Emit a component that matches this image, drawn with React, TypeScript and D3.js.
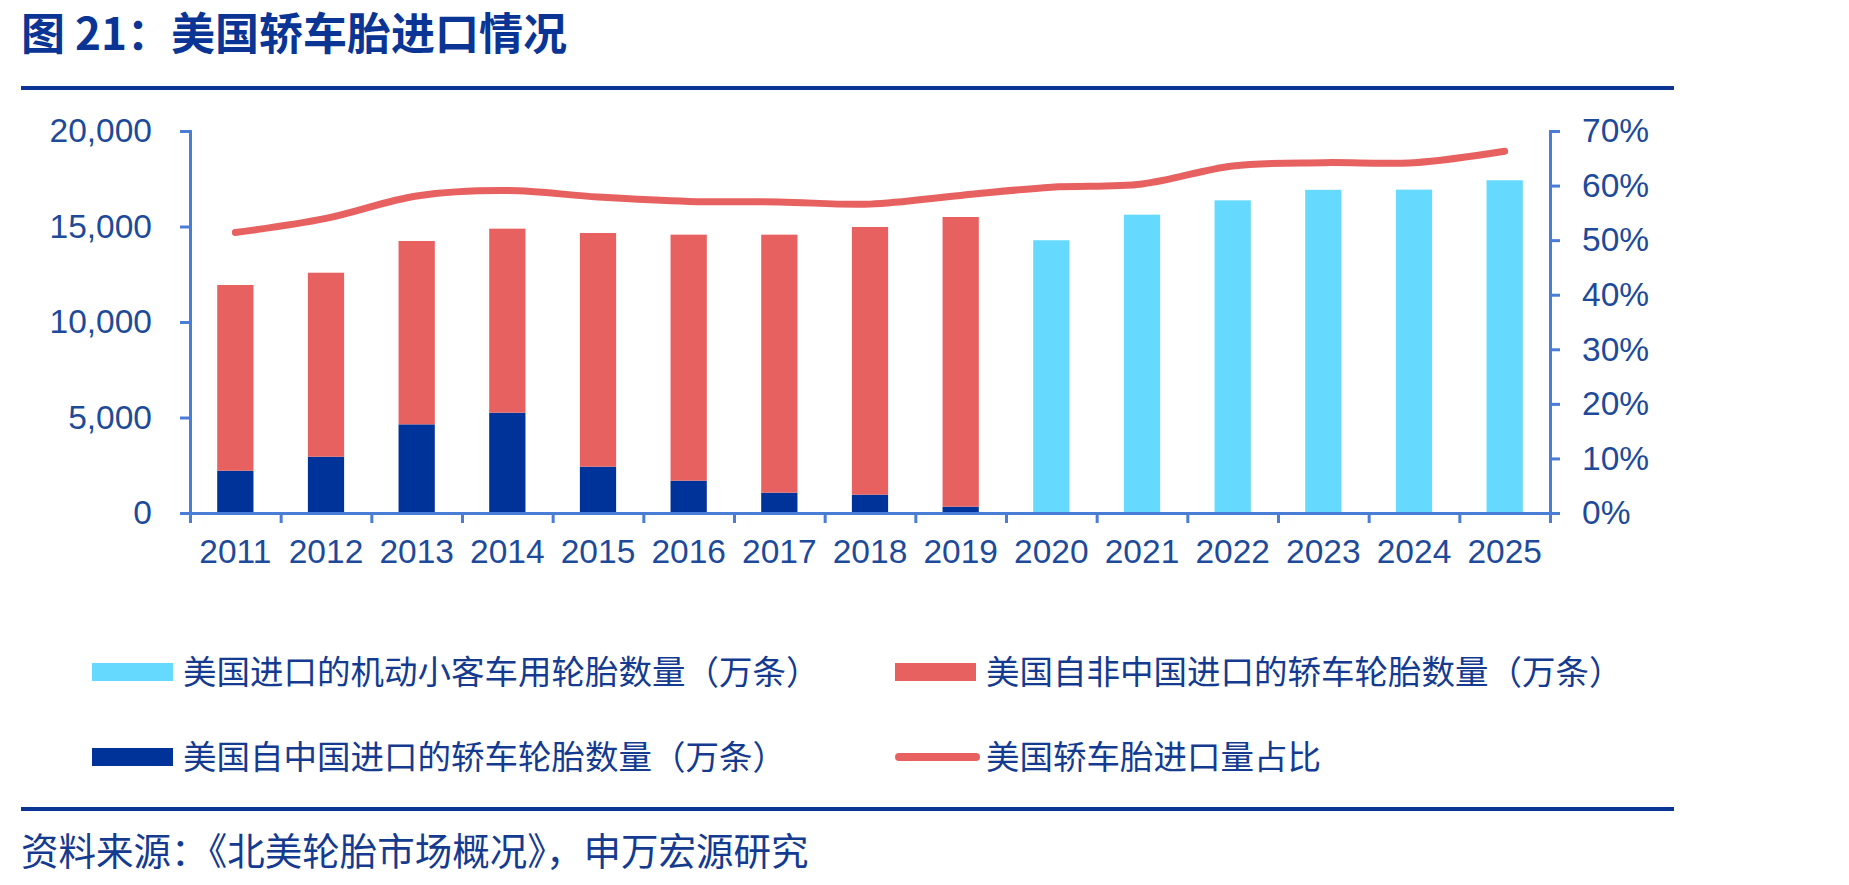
import React, { useEffect, useRef } from 'react'
import * as d3 from 'd3'

const width = 1849
const height = 885
const margin = { top: 131, left: 190, right: 299, bottom: 372 }
const innerW = width - margin.left - margin.right
const innerH = height - margin.top - margin.bottom

const years = ['2011', '2012', '2013', '2014', '2015', '2016', '2017', '2018', '2019', '2020', '2021', '2022', '2023', '2024', '2025']
// 美国自中国进口的轿车轮胎数量（万条）
const fromChina = [2215, 2948, 4642, 5253, 2426, 1693, 1065, 960, 332, 0, 0, 0, 0, 0, 0]
// 美国自非中国进口的轿车轮胎数量（万条）
const fromOthers = [9722, 9633, 9599, 9634, 12234, 12879, 13507, 14014, 15165, 0, 0, 0, 0, 0, 0]
// 美国进口的机动小客车用轮胎数量（万条）
const passengerTotal = [0, 0, 0, 0, 0, 0, 0, 0, 0, 14280, 15620, 16370, 16920, 16930, 17420]
// 美国轿车胎进口量占比 (%)
const share = [51.4, 54.0, 58.1, 59.1, 57.9, 57.1, 57.0, 56.6, 58.2, 59.7, 60.3, 63.6, 64.2, 64.2, 66.3]

const leftTicks = [0, 5000, 10000, 15000, 20000]
const rightTicks = [0, 10, 20, 30, 40, 50, 60, 70]

const legendItems = [
  { label: '美国进口的机动小客车用轮胎数量（万条）', color: '#66D9FE', type: 'bar' },
  { label: '美国自非中国进口的轿车轮胎数量（万条）', color: '#E86161', type: 'bar' },
  { label: '美国自中国进口的轿车轮胎数量（万条）', color: '#003399', type: 'bar' },
  { label: '美国轿车胎进口量占比', color: '#E86161', type: 'line' },
]

const titleColor = '#0A3595'
const axisColor = '#4A7DD6'
const labelColor = '#1E4A9A'
const cjk = '"Noto Sans CJK SC", "Noto Sans", sans-serif'
const latin = '"Liberation Sans", Arial, sans-serif'

const x = d3.scaleBand().domain(years).range([0, innerW]).paddingInner(0.6).paddingOuter(0.3)
const xEdge = d3.scaleLinear().domain([0, years.length]).range([0, innerW])
const yLeft = d3.scaleLinear().domain([0, 20000]).range([innerH, 0])
const yRight = d3.scaleLinear().domain([0, 70]).range([innerH, 0])

const rows = years.map((year, i) => ({ year, china: fromChina[i], others: fromOthers[i] }))
const stacked = d3.stack<any>().keys(['china', 'others'])(rows)
const stackColors = ['#003399', '#E86161']

const shareLine = d3.line<number>()
  .x((d, i) => (x(years[i]) as number) + x.bandwidth() / 2)
  .y(d => yRight(d))
  .curve(d3.curveCatmullRom.alpha(0.5))

export default function App() {
  const leftRef = useRef<SVGGElement>(null)
  const rightRef = useRef<SVGGElement>(null)
  const bottomRef = useRef<SVGGElement>(null)
  const bottomLabelRef = useRef<SVGGElement>(null)

  useEffect(() => {
    const left = d3.select(leftRef.current)
    left.call(d3.axisLeft(yLeft).tickValues(leftTicks).tickSize(10).tickSizeOuter(10).tickPadding(28)
      .tickFormat(d3.format(',')) as any)
    const right = d3.select(rightRef.current)
    right.call(d3.axisRight(yRight).tickValues(rightTicks).tickSize(10).tickSizeOuter(10).tickPadding(22)
      .tickFormat(d => `${d}%`) as any)
    const bottom = d3.select(bottomRef.current)
    bottom.call(d3.axisBottom(xEdge).tickValues(d3.range(years.length + 1)).tickSize(10).tickSizeOuter(0)
      .tickFormat(() => '') as any)
    const labels = d3.select(bottomLabelRef.current)
    labels.call(d3.axisBottom(x).tickSize(0).tickPadding(26) as any)
    labels.select('.domain').remove()

    for (const g of [left, right, bottom]) {
      g.selectAll('.domain, line').attr('stroke', axisColor).attr('stroke-width', 3)
    }
    for (const g of [left, right, labels]) {
      g.selectAll('text')
        .attr('fill', labelColor)
        .attr('font-size', 33.5)
        .attr('font-family', latin)
    }
  }, [])

  return (
    <svg width={width} height={height} style={{ position: 'absolute', left: 0, top: 0, background: '#fff' }}>
      <text x={21} y={50} fill={titleColor} fontSize={44} fontWeight="bold" fontFamily={cjk}>图 21：美国轿车胎进口情况</text>
      <rect x={21} y={86} width={1653} height={4} fill={titleColor} />

      <g transform={`translate(${margin.left},${margin.top})`}>
        {passengerTotal.map((v, i) => v > 0 && (
          <rect key={'p' + i} x={x(years[i])} y={yLeft(v)} width={x.bandwidth()} height={innerH - yLeft(v)} fill="#66D9FE" />
        ))}
        {stacked.map((layer, k) => (
          <g key={layer.key} fill={stackColors[k]}>
            {layer.map((d, i) => d[1] > d[0] && (
              <rect key={i} x={x(years[i])} y={yLeft(d[1])} width={x.bandwidth()} height={yLeft(d[0]) - yLeft(d[1])} />
            ))}
          </g>
        ))}
        <path d={shareLine(share) || ''} fill="none" stroke="#E86161" strokeWidth={7} strokeLinecap="round" strokeLinejoin="round" />
        <g ref={bottomRef} transform={`translate(0,${innerH})`} />
        <g ref={bottomLabelRef} transform={`translate(0,${innerH})`} />
        <g ref={leftRef} />
        <g ref={rightRef} transform={`translate(${innerW},0)`} />
      </g>

      <g fontFamily={cjk} fontSize={33.5} fill="#143B90">
        {legendItems.map((item, i) => {
          const lx = i % 2 === 0 ? 92 : 895
          const ly = i < 2 ? 672 : 757
          return (
            <g key={item.label} transform={`translate(${lx},${ly})`}>
              {item.type === 'bar'
                ? <rect x={0} y={-9} width={81} height={18} fill={item.color} />
                : <line x1={4} x2={81} y1={0} y2={0} stroke={item.color} strokeWidth={8} strokeLinecap="round" />}
              <text x={91} y={12}>{item.label}</text>
            </g>
          )
        })}
      </g>

      <rect x={21} y={807} width={1653} height={4} fill={titleColor} />
      <text x={21} y={865} fill="#143B90" fontSize={37.5} fontFamily={cjk}>资料来源：《北美轮胎市场概况》，申万宏源研究</text>
    </svg>
  )
}
